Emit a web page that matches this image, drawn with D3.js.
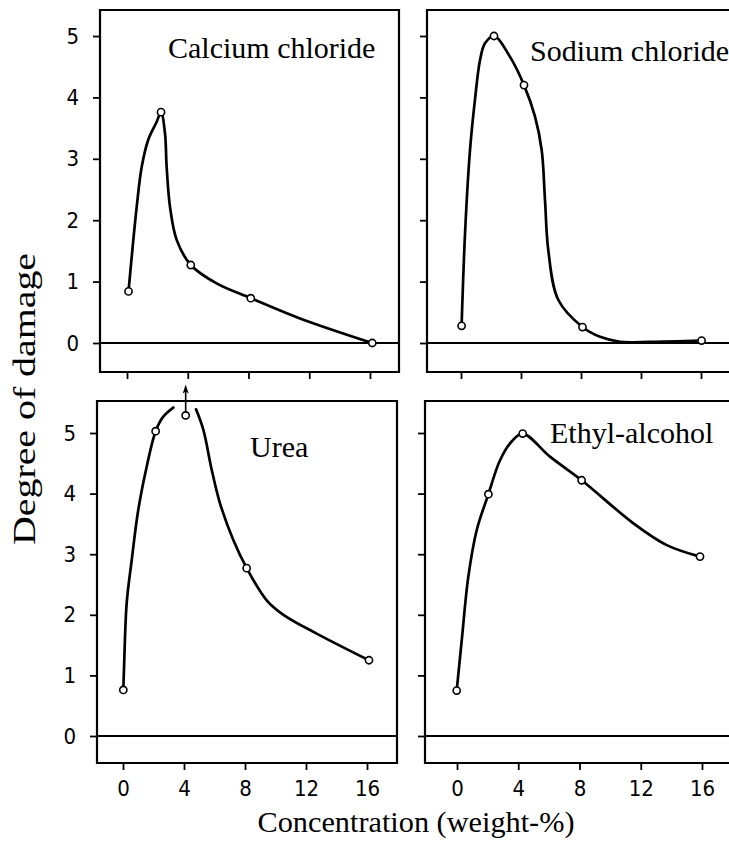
<!DOCTYPE html>
<html>
<head>
<meta charset="utf-8">
<script src="https://cdn.jsdelivr.net/npm/d3@7"></script>
<style>
  html, body { margin: 0; padding: 0; background: #fff; }
  svg { display: block; }
</style>
</head>
<body>
<svg id="chart" width="729" height="845"></svg>
<script>
// ---------------- DATA ----------------
const panelNames = ["Calcium chloride", "Sodium chloride", "Urea", "Ethyl-alcohol"];
const xTickValues = [0, 4, 8, 12, 16];
const yTickValues = [0, 1, 2, 3, 4, 5];
const xAxisTitle = "Concentration (weight-%)";
const yAxisTitle = "Degree of damage";

// measured points (open circles)
const calciumX = [0.1, 2.24, 4.2, 8.15, 16.15];
const calciumY = [0.84, 3.76, 1.27, 0.73, 0.0];
const sodiumX  = [0.04, 2.2, 4.2, 8.1, 16.04];
const sodiumY  = [0.28, 5.0, 4.2, 0.26, 0.04];
const ureaX    = [0.02, 2.14, 4.11, 8.11, 16.13];
const ureaY    = [0.76, 5.03, 5.29, 2.77, 1.25];
const ethylX   = [-0.02, 2.05, 4.29, 8.14, 15.87];
const ethylY   = [0.75, 3.99, 4.99, 4.22, 2.96];

// hand-drawn curve (null = break in the line)
const calciumCurveX = [0.1, 0.64, 0.97, 1.4, 1.95, 2.24, 2.5, 2.61, 2.83, 3.27, 4.2, 5.9, 8.15, 11.39, 16.15];
const calciumCurveY = [0.84, 2.22, 2.87, 3.31, 3.6, 3.76, 3.42, 2.87, 2.22, 1.68, 1.27, 0.97, 0.73, 0.40, 0.0];
const sodiumCurveX  = [0.04, 0.27, 0.6, 0.93, 1.27, 1.6, 2.2, 3.27, 4.2, 4.93, 5.38, 5.6, 5.82, 6.49, 8.1, 9.27, 10.6, 12.6, 16.04];
const sodiumCurveY  = [0.28, 1.79, 3.14, 3.96, 4.61, 4.88, 5.0, 4.66, 4.2, 3.69, 3.14, 2.33, 1.51, 0.70, 0.26, 0.10, 0.02, 0.02, 0.04];
const ureaCurveX    = [0.02, 0.07, 0.24, 0.57, 1.0, 1.55, 2.14, 2.64, 3.3, null, 4.79, 5.27, 5.82, 6.36, 7.24, 8.11, 9.42, 10.52, 12.7, 16.13];
const ureaCurveY    = [0.76, 1.14, 2.19, 2.9, 3.73, 4.44, 5.03, 5.27, 5.42, null, 5.39, 5.05, 4.39, 3.84, 3.23, 2.77, 2.24, 2.0, 1.69, 1.25];
const ethylCurveX   = [-0.02, 0.31, 0.74, 1.29, 2.05, 2.81, 3.57, 4.29, 6.07, 8.14, 11.52, 13.7, 15.87];
const ethylCurveY   = [0.75, 1.58, 2.63, 3.4, 3.99, 4.55, 4.86, 4.99, 4.61, 4.22, 3.51, 3.15, 2.96];

const ureaArrowTop = 5.8; // off-scale arrow above the urea maximum

// ---------------- LAYOUT ----------------
const panels = [
  { name: panelNames[0], px: calciumX, py: calciumY, cx: calciumCurveX, cy: calciumCurveY,
    frame: { l: 100, r: 399, t: 10, b: 372 }, xr: [127, 370], yr: [343, 36],
    rightBorder: true, yLabels: true, xLabels: false, title: { x: 168, y: 58 } },
  { name: panelNames[1], px: sodiumX, py: sodiumY, cx: sodiumCurveX, cy: sodiumCurveY,
    frame: { l: 427, r: 740, t: 10, b: 372 }, xr: [461, 701], yr: [343, 36],
    rightBorder: false, yLabels: false, xLabels: false, title: { x: 530, y: 61 } },
  { name: panelNames[2], px: ureaX, py: ureaY, cx: ureaCurveX, cy: ureaCurveY,
    frame: { l: 97, r: 397, t: 401, b: 763 }, xr: [123, 367], yr: [736, 433],
    rightBorder: true, yLabels: true, xLabels: true, title: { x: 250, y: 457 }, arrow: true },
  { name: panelNames[3], px: ethylX, py: ethylY, cx: ethylCurveX, cy: ethylCurveY,
    frame: { l: 425, r: 740, t: 401, b: 763 }, xr: [457, 702], yr: [736, 433],
    rightBorder: false, yLabels: false, xLabels: true, title: { x: 550, y: 443 } }
];

const svg = d3.select("#chart");
const serif = "'Liberation Serif', 'Times New Roman', Times, serif";
const tickFont = "'Liberation Sans Narrow', 'DejaVu Sans Condensed', 'Arial Narrow', sans-serif";

panels.forEach(p => {
  const x = d3.scaleLinear().domain([0, 16]).range(p.xr);
  const y = d3.scaleLinear().domain([0, 5]).range(p.yr);
  const g = svg.append("g");
  const f = p.frame;

  // frame
  const framePath = p.rightBorder
    ? `M${f.l},${f.t}H${f.r}V${f.b}H${f.l}Z`
    : `M${f.r},${f.t}H${f.l}V${f.b}H${f.r}`;
  g.append("path").attr("d", framePath)
    .attr("fill", "none").attr("stroke", "#000").attr("stroke-width", 2.2);

  // zero line
  g.append("line")
    .attr("x1", f.l).attr("x2", f.r)
    .attr("y1", y(0)).attr("y2", y(0))
    .attr("stroke", "#000").attr("stroke-width", 1.8);

  // y axis (ticks pointing outward on the left)
  const yAxis = d3.axisLeft(y).tickValues(yTickValues).tickSize(7).tickPadding(14)
    .tickFormat(p.yLabels ? d3.format("d") : () => "");
  const ya = g.append("g").attr("transform", `translate(${f.l},0)`).call(yAxis);
  ya.select(".domain").remove();
  ya.selectAll(".tick line").attr("stroke", "#000").attr("stroke-width", 1.8);
  ya.selectAll(".tick text").attr("font-family", tickFont).attr("font-size", 22).attr("fill", "#000");

  // x axis (ticks pointing down)
  const xAxis = d3.axisBottom(x).tickValues(xTickValues).tickSize(7).tickPadding(10)
    .tickFormat(p.xLabels ? d3.format("d") : () => "");
  const xa = g.append("g").attr("transform", `translate(0,${f.b})`).call(xAxis);
  xa.select(".domain").remove();
  xa.selectAll(".tick line").attr("stroke", "#000").attr("stroke-width", 1.8);
  xa.selectAll(".tick text").attr("font-family", tickFont).attr("font-size", 22).attr("fill", "#000");

  // curve
  const pts = p.cx.map((v, i) => ({ x: v, y: p.cy[i] }));
  const line = d3.line()
    .defined(d => d.x !== null && d.y !== null)
    .x(d => x(d.x)).y(d => y(d.y))
    .curve(d3.curveCatmullRom.alpha(0.5));
  g.append("path").datum(pts).attr("d", line)
    .attr("fill", "none").attr("stroke", "#000").attr("stroke-width", 2.7)
    .attr("stroke-linejoin", "round").attr("stroke-linecap", "round");

  // off-scale arrow (urea)
  if (p.arrow) {
    const ai = 2;
    const ax = x(p.px[ai]);
    const tipY = y(ureaArrowTop);
    g.append("line")
      .attr("x1", ax).attr("x2", ax)
      .attr("y1", y(p.py[ai]) - 4).attr("y2", tipY + 6)
      .attr("stroke", "#000").attr("stroke-width", 1.6);
    g.append("path")
      .attr("d", `M${ax},${tipY} L${ax + 3},${tipY + 9} L${ax},${tipY + 7} L${ax - 3},${tipY + 9} Z`)
      .attr("fill", "#000");
  }

  // markers
  g.selectAll("circle.pt").data(p.px.map((v, i) => ({ x: v, y: p.py[i] })))
    .join("circle").attr("class", "pt")
    .attr("cx", d => x(d.x)).attr("cy", d => y(d.y)).attr("r", 3.6)
    .attr("fill", "#fff").attr("stroke", "#000").attr("stroke-width", 1.6);

  // title
  g.append("text").attr("x", p.title.x).attr("y", p.title.y)
    .attr("font-family", serif).attr("font-size", 30).attr("fill", "#000")
    .text(p.name);
});

// axis titles
svg.append("text")
  .attr("x", 416).attr("y", 832).attr("text-anchor", "middle")
  .attr("font-family", serif).attr("font-size", 30).attr("fill", "#000")
  .attr("textLength", 317).attr("lengthAdjust", "spacingAndGlyphs")
  .text(xAxisTitle);

svg.append("text")
  .attr("transform", "translate(35,399) rotate(-90)")
  .attr("text-anchor", "middle")
  .attr("font-family", serif).attr("font-size", 31).attr("fill", "#000")
  .attr("textLength", 292).attr("lengthAdjust", "spacingAndGlyphs")
  .text(yAxisTitle);
</script>
</body>
</html>
